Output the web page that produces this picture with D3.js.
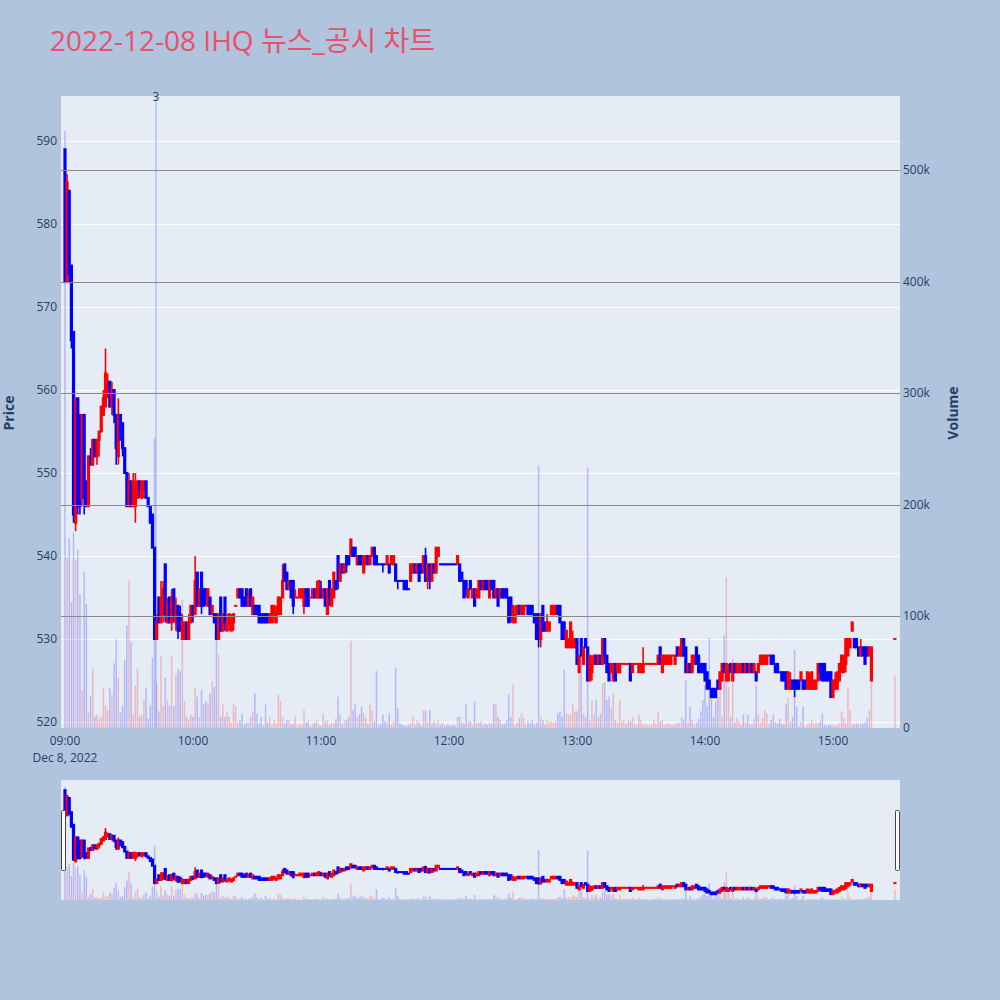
<!DOCTYPE html>
<html><head><meta charset="utf-8">
<script src="https://cdn.jsdelivr.net/npm/d3@7"></script>
<style>
body{margin:0;background:#b0c4de;}
svg{display:block;font-family:"Open Sans","Noto Sans CJK KR",sans-serif;}
</style>
</head><body>
<svg id="chart" width="1000" height="1000"></svg>
<script>
// ---------------- DATA ----------------
const chartTitle = "2022-12-08 IHQ 뉴스_공시 차트";
const sessionDate = "2022-12-08";
const hourStarts = ["09:00","10:00","11:00","12:00","13:00","14:00","15:00"];
// one [open, high, low, close] per minute from the hour start; null = no trade
const ohlc09 = [[589,589,573,573],[573,586,573,585],[584,584,573,574],[575,575,565,566],[567,567,544,545],[544,559,543,559],[559,559,545,546],[557,557,545,546],[547,557,546,557],[557,557,545,547],
[549,549,546,546],[546,552,546,552],[552,553,551,551],[551,554,551,554],[554,554,552,552],[552,554,551,554],[554,555,552,555],[555,558,555,558],[557,560,557,559],[558,565,558,562],
[560,562,559,561],[561,561,558,558],[558,561,557,560],[560,560,556,557],[557,557,551,553],[552,559,551,557],[557,557,554,554],[556,556,552,553],[553,553,550,550],[550,550,546,546],
[546,550,546,549],[549,549,546,546],[546,550,546,549],[546,550,544,548],[547,549,547,549],[549,549,547,548],[547,549,547,549],[548,549,547,549],[549,549,547,547],[547,547,546,546],
[546,546,544,544],[545,545,541,541],[541,541,530,530],[530,533,530,532],[535,535,532,532],[532,537,532,535],[533,537,532,536],[539,539,532,533],[532,535,532,534],[535,535,532,532],
[532,536,531,535],[536,536,532,533],[532,535,531,534],[534,534,530,531],[533,534,531,531],[530,533,530,532],[530,532,530,532],[532,532,530,530],[530,533,530,532],[532,534,532,534]];
const ohlc10 = [[534,534,532,533],[533,540,533,537],[538,538,534,534],[534,536,534,536],[538,538,533,534],[536,536,534,534],[536,536,534,535],[534,536,534,536],[535,535,533,533],[533,534,533,534],
[533,533,532,532],[533,533,530,530],[530,533,530,533],[535,535,531,531],[531,533,531,533],[535,535,531,532],[531,533,531,532],[532,533,531,533],[531,533,531,532],[532,533,531,533],
[534,534,534,534],[535,536,535,536],[536,536,535,535],[536,536,534,534],[535,535,534,534],[536,536,534,534],[534,536,534,535],[536,536,534,534],[533,535,533,535],[534,534,533,533],
[534,534,533,533],[534,534,532,532],[533,533,532,532],[533,533,532,532],[533,533,532,532],[533,533,532,532],[532,533,532,533],[532,534,532,534],[533,534,532,534],[532,534,532,533],
[533,535,533,535],[533,535,533,535],[535,539,535,537],[539,539,537,537],[538,538,536,536],[536,537,536,537],[537,537,535,535],[537,537,533,534],[535,536,535,535],[535,535,535,535],
[535,536,535,536],[535,536,535,536],[534,536,533,536],[536,536,534,534],[536,536,534,534],[535,535,535,535],[535,536,535,536],[536,536,535,535],[535,537,535,536],[535,537,535,537]];
const ohlc11 = [[536,537,535,535],[535,536,535,536],[536,536,534,534],[533,536,533,536],[537,537,534,535],[534,536,534,536],[535,538,535,538],[537,537,536,536],[540,540,536,537],[537,539,537,539],
[539,539,538,538],[538,539,538,539],[540,540,538,539],[540,540,539,539],[540,542,540,542],[541,541,540,540],[541,541,540,540],[539,540,539,540],[540,540,539,539],[540,540,539,539],
[538,540,538,540],[539,540,539,540],[540,540,539,539],[539,540,539,540],[540,541,540,541],[541,541,539,539],[540,540,539,539],[539,539,539,539],[539,539,539,539],[539,539,538,539],
[539,539,539,539],[539,540,539,540],[539,539,538,538],[539,540,539,540],[539,540,539,540],[539,539,537,537],[537,537,536,537],[537,537,537,537],[537,537,537,537],[537,537,536,536],
[537,537,536,536],[536,536,536,536],[537,539,537,539],[538,539,538,539],[539,539,538,538],[538,539,538,539],[539,539,537,537],[539,539,538,538],[538,540,538,540],[540,541,537,537],
[537,539,536,539],[539,539,536,537],[537,539,537,539],[539,539,538,538],[538,541,538,541],[540,541,540,541],[539,539,539,539],[539,539,539,539],[539,539,539,539],[539,539,539,539]];
const ohlc12 = [[539,539,539,539],[539,539,539,539],[539,539,539,539],[539,539,539,539],[539,540,539,540],[539,539,537,537],[538,538,537,537],[537,537,535,535],[537,537,535,536],[535,536,535,536],
[537,537,536,536],[535,536,535,536],[536,536,534,534],[535,536,535,536],[535,537,535,537],[537,537,536,536],[536,537,536,537],[537,537,536,536],[537,537,536,536],[535,537,535,537],
[537,537,536,536],[537,537,535,535],[535,536,535,536],[536,536,534,534],[535,536,535,536],[536,536,535,535],[536,536,535,535],[536,536,535,535],[535,535,532,532],[535,535,532,533],
[532,534,532,534],[532,534,532,533],[533,534,533,534],[534,534,533,533],[533,534,533,534],[533,534,533,534],[534,534,534,534],[534,534,533,533],[534,534,533,533],[534,534,533,533],
[533,533,532,532],[533,533,530,530],[533,533,529,530],[530,533,529,533],[534,534,531,531],[532,532,531,531],[531,533,531,532],[531,532,531,532],[533,534,533,534],[533,534,533,534],
[533,534,533,534],[534,534,533,533],[534,534,532,532],[532,532,530,530],[532,532,530,530],[529,531,529,531],[529,530,529,530],[529,532,529,532],[529,531,529,530],[529,530,529,530]];
const ohlc13 = [[530,530,527,527],[526,528,526,528],[530,530,528,528],[527,529,527,529],[530,530,529,529],[529,529,525,525],[525,528,525,528],[526,528,525,527],[527,528,527,528],[528,528,527,527],
[527,528,527,528],[528,528,527,527],[527,530,527,530],[530,530,527,528],[528,528,526,526],[527,527,525,525],[526,527,526,527],[525,527,525,527],[527,527,525,525],[526,527,526,527],
[526,527,526,527],[527,527,527,527],[527,527,527,527],[527,527,527,527],[527,527,527,527],[527,527,525,525],[526,527,526,527],[527,527,527,527],[527,527,527,527],[526,527,526,527],
[526,527,526,527],[526,529,526,527],[527,527,527,527],[527,527,527,527],[527,527,527,527],[527,527,527,527],[527,527,527,527],[527,527,527,527],[527,528,527,528],[529,529,527,527],
[526,528,526,528],[527,528,527,528],[527,528,527,528],[527,528,527,528],[527,528,527,528],[528,528,528,528],[527,528,527,528],[529,529,528,528],[528,529,528,529],[528,530,528,530],
[530,530,528,528],[529,529,526,526],[526,527,526,527],[527,527,526,526],[526,528,526,528],[527,528,527,528],[529,529,527,527],[528,528,526,526],[527,527,526,526],[527,527,526,526]];
const ohlc14 = [[527,527,525,525],[526,526,524,524],[525,525,524,524],[524,524,523,523],[524,524,523,523],[524,524,523,523],[525,525,524,524],[524,526,524,526],[525,527,525,527],[527,527,526,526],
[525,527,525,527],[525,527,525,526],[527,527,526,526],[525,527,525,527],[527,527,526,526],[526,527,526,527],[526,527,526,527],[526,527,526,527],[527,527,526,526],[526,527,526,527],
[527,527,526,526],[526,527,526,527],[527,527,526,526],[526,527,526,527],[526,526,525,525],[526,527,526,527],[527,528,527,528],[527,528,527,528],[527,528,527,528],[527,528,527,528],
[528,528,528,528],[528,528,527,527],[528,528,527,527],[527,527,526,526],[527,527,526,526],[526,526,526,526],[526,526,525,525],[526,526,525,525],[526,526,524,524],[524,526,524,526],
[524,526,524,525],[525,525,524,524],[525,525,523,524],[525,525,524,524],[525,525,524,524],[525,526,525,526],[525,525,524,524],[525,525,524,524],[524,526,524,526],[524,526,524,525],
[524,526,524,526],[524,525,524,525],[524,525,524,525],[525,527,525,527],[527,527,525,526],[527,527,525,525],[527,527,525,525],[526,526,525,525],[526,526,525,525],[526,526,523,523]];
const ohlc15 = [[523,525,523,525],[524,526,524,525],[524,526,524,526],[525,527,525,527],[526,528,526,528],[526,528,526,528],[527,530,526,530],[528,530,528,530],[529,530,529,530],[531,532,531,532],
[530,530,529,529],[530,530,529,529],[529,529,528,528],[528,530,528,529],[529,529,528,528],[529,529,527,527],[529,529,528,528],[528,529,528,529],[525,529,525,529],
null,null,null,null,null,null,null,null,null,null,[530,530,530,530]];

// volume per minute, thousand shares
const vol09 = [535,153,170,113,175,151,160,120,34,140,111,14,29,53,10,12,8,10,36,20,16,36,30,58,80,45,14,20,61,92,132,77,12,38,53,10,12,25,36,8,20,63,260,40,15,64,20,45,25,20,64,20,48,53,51,115,24,10,8,12];
const vol10 = [10,36,28,10,34,21,24,22,31,42,37,79,66,10,21,10,15,10,5,22,19,5,7,13,3,5,5,10,15,31,13,4,10,2,21,5,10,3,7,4,30,24,10,4,7,7,3,4,10,2,4,3,16,5,6,2,4,5,7,3];
const vol11 = [2,13,6,7,3,5,4,8,28,12,4,7,7,10,78,16,22,10,12,19,13,9,4,21,16,6,51,3,4,12,6,5,13,3,6,54,18,4,3,2,2,3,4,10,3,7,5,2,16,16,5,16,4,6,4,7,3,4,2,3];
const vol12 = [3,2,3,2,10,10,5,4,21,6,6,3,24,4,5,6,3,4,3,5,4,22,21,10,7,3,4,7,30,10,39,3,5,9,13,9,3,6,4,7,3,5,235,10,7,3,7,5,6,5,6,13,15,10,52,13,12,12,22,15];
const vol13 = [15,55,64,13,10,233,7,24,12,25,10,13,40,41,25,28,18,31,7,5,25,6,7,4,7,6,10,4,3,12,7,3,4,3,2,3,7,4,15,6,7,3,4,4,3,3,4,4,5,10,8,43,5,19,7,3,5,8,15,25];
const vol14 = [38,20,81,28,10,24,28,49,10,83,135,37,10,62,5,9,6,3,12,5,12,4,3,8,38,12,5,9,16,13,4,7,12,5,4,8,4,3,22,27,6,10,70,19,1,6,19,1,3,4,7,3,5,4,6,13,3,2,3,3];
const vol15 = [3,2,3,4,15,9,4,36,16,4,3,4,3,4,4,5,9,16,49,null,null,null,null,null,null,null,null,null,null,47];

const priceTicks = [520,530,540,550,560,570,580,590];
const volumeTicks = [0,100,200,300,400,500];
const volumeTickLabels = ["0","100k","200k","300k","400k","500k"];
const timeTicks = ["09:00","10:00","11:00","12:00","13:00","14:00","15:00"];
const newsTimes = ["09:42:40"];
const newsCounts = ["3"];

// ---------------- BUILD ----------------
const ohlcByHour = [ohlc09,ohlc10,ohlc11,ohlc12,ohlc13,ohlc14,ohlc15];
const volByHour = [vol09,vol10,vol11,vol12,vol13,vol14,vol15];
const parseT = d3.timeParse("%Y-%m-%d %H:%M");
const parseS = d3.timeParse("%Y-%m-%d %H:%M:%S");
const data = [];
hourStarts.forEach((hs, hi) => {
  const t0 = parseT(sessionDate + " " + hs);
  ohlcByHour[hi].forEach((q, i) => {
    if (!q) return;
    data.push({t: d3.timeMinute.offset(t0, i), o:q[0], h:q[1], l:q[2], c:q[3], v: volByHour[hi][i]});
  });
});
let inc = false, cPrev = null;
data.forEach(d => {
  if (d.c === d.o) { if (cPrev !== null && d.c !== cPrev) inc = d.c > cPrev; }
  else inc = d.c > d.o;
  d.up = inc; cPrev = d.c;
});

const UP = "#ff0000", DOWN = "#0000ff";
const P = {l:61, r:900, t:96, b:728};
const S = {t:780, b:900};
const tStart = parseT(sessionDate + " 09:00");
const x = d3.scaleTime()
  .domain([d3.timeSecond.offset(tStart, -112), d3.timeSecond.offset(tStart, 23484)])
  .range([P.l, P.r]);
const y = d3.scaleLinear().domain([519.28, 595.42]).range([P.b, P.t]);
const yv = d3.scaleLinear().domain([0, 566.3]).range([P.b, P.t]);
const ys = d3.scaleLinear().domain([519.28, 595.42]).range([S.b, S.t]);
const yvs = d3.scaleLinear().domain([0, 566.3]).range([S.b, S.t]);

const svg = d3.select("#chart");
svg.append("rect").attr("width",1000).attr("height",1000).attr("fill","#b0c4de");

svg.append("text").attr("x",50).attr("y",51).attr("fill","#e9506a")
  .attr("font-size",28).text(chartTitle);

const defs = svg.append("defs");
defs.append("clipPath").attr("id","clipMain").append("rect")
  .attr("x",P.l).attr("y",P.t).attr("width",P.r-P.l).attr("height",P.b-P.t);
defs.append("clipPath").attr("id","clipSlider").append("rect")
  .attr("x",P.l).attr("y",S.t).attr("width",P.r-P.l).attr("height",S.b-S.t);

svg.append("rect").attr("x",P.l).attr("y",P.t).attr("width",P.r-P.l).attr("height",P.b-P.t).attr("fill","#e5ecf6");

// price grid
svg.append("g").selectAll("line").data(priceTicks).join("line")
  .attr("x1",P.l).attr("x2",P.r)
  .attr("y1",d=>Math.round(y(d))+0.5).attr("y2",d=>Math.round(y(d))+0.5)
  .attr("stroke","#fff").attr("stroke-width",1);

function drawVolume(g, yScale) {
  g.selectAll("rect").data(data.filter(d=>d.v!=null)).join("rect")
    .attr("x", d=>x(d.t)-0.75).attr("width",1.5)
    .attr("y", d=>yScale(d.v)).attr("height", d=>yScale(0)-yScale(d.v))
    .attr("fill", d=>d.up?UP:DOWN).attr("fill-opacity",0.22);
}
function drawCandles(g, yScale) {
  const c = g.selectAll("g").data(data).join("g");
  c.append("line")
    .attr("x1",d=>x(d.t)).attr("x2",d=>x(d.t))
    .attr("y1",d=>yScale(d.h)).attr("y2",d=>yScale(d.l))
    .attr("stroke",d=>d.up?UP:DOWN).attr("stroke-width",1.6);
  c.append("rect")
    .attr("x",d=>x(d.t)-1.6).attr("width",3.2)
    .attr("y",d=>yScale(Math.max(d.o,d.c))-1)
    .attr("height",d=>Math.abs(yScale(d.o)-yScale(d.c))+2)
    .attr("fill",d=>d.up?UP:DOWN);
}

const main = svg.append("g").attr("clip-path","url(#clipMain)");
drawVolume(main.append("g"), yv);

// news markers
const news = newsTimes.map((s,i)=>({t: parseS(sessionDate+" "+s), n: newsCounts[i]}));
main.append("g").selectAll("line").data(news).join("line")
  .attr("x1",d=>x(d.t)).attr("x2",d=>x(d.t)).attr("y1",P.t).attr("y2",P.b)
  .attr("stroke","rgba(70,100,255,0.4)").attr("stroke-width",1.2);

drawCandles(main.append("g"), y);

// volume grid (secondary axis, drawn above)
svg.append("g").selectAll("line").data(volumeTicks.filter(d=>d>0)).join("line")
  .attr("x1",P.l).attr("x2",P.r)
  .attr("y1",d=>Math.round(yv(d))+0.5).attr("y2",d=>Math.round(yv(d))+0.5)
  .attr("stroke","#8a8a8a").attr("stroke-width",1);

svg.append("g").selectAll("text").data(news).join("text")
  .attr("x",d=>x(d.t)).attr("y",101).attr("text-anchor","middle")
  .attr("font-size",12).attr("fill","#2a3f5f").text(d=>d.n);

// axes labels
const tickCol = "#2a3f5f";
svg.append("g").selectAll("text").data(priceTicks).join("text")
  .attr("x",57).attr("y",d=>y(d)+4).attr("text-anchor","end")
  .attr("font-size",12).attr("fill",tickCol).text(d=>d);
svg.append("g").selectAll("text").data(volumeTicks).join("text")
  .attr("x",903).attr("y",d=>yv(d)+4).attr("text-anchor","start")
  .attr("font-size",12).attr("fill",tickCol).text((d,i)=>volumeTickLabels[i]);
svg.append("g").selectAll("text").data(timeTicks).join("text")
  .attr("x",d=>x(parseT(sessionDate+" "+d))).attr("y",745).attr("text-anchor","middle")
  .attr("font-size",12).attr("fill",tickCol).text(d=>d);
svg.append("text").attr("x",x(tStart)).attr("y",762).attr("text-anchor","middle")
  .attr("font-size",12).attr("fill",tickCol).text(d3.timeFormat("%b %-d, %Y")(tStart));

svg.append("text").attr("transform","translate(14,413) rotate(-90)").attr("text-anchor","middle")
  .attr("font-size",14).attr("font-weight","bold").attr("fill",tickCol).text("Price");
svg.append("text").attr("transform","translate(958,413) rotate(-90)").attr("text-anchor","middle")
  .attr("font-size",14).attr("font-weight","bold").attr("fill",tickCol).text("Volume");

// range slider
svg.append("rect").attr("x",P.l).attr("y",S.t).attr("width",P.r-P.l).attr("height",S.b-S.t).attr("fill","#e5ecf6");
const sl = svg.append("g").attr("clip-path","url(#clipSlider)");
drawVolume(sl.append("g"), yvs);
drawCandles(sl.append("g"), ys);
[P.l+0.5, P.r-4.5].forEach(hx => {
  svg.append("rect").attr("x",hx).attr("y",810.5).attr("width",4).attr("height",60)
    .attr("rx",1).attr("fill","#fff").attr("stroke","#444").attr("stroke-width",1);
});
</script>
</body></html>
